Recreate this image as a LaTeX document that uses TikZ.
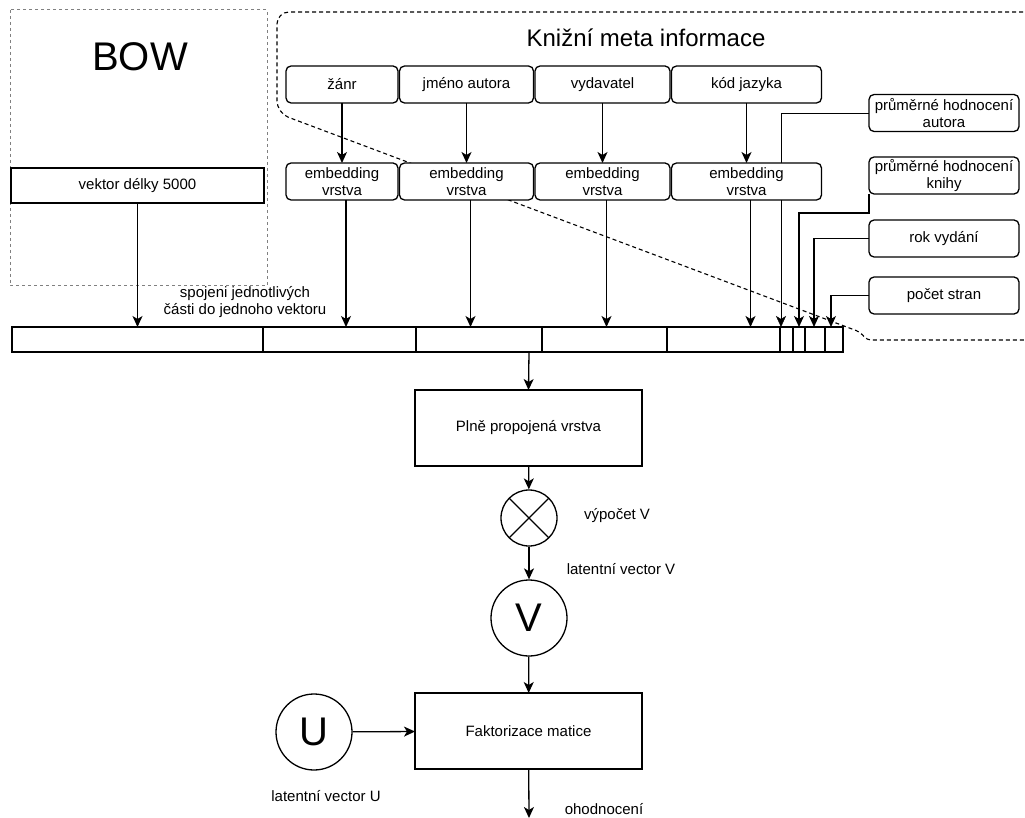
\documentclass[tikz,border=0pt]{standalone}
\usepackage{fontspec}
\setmainfont{Liberation Sans}
\usetikzlibrary{calc,chains,arrows.meta,positioning,backgrounds}
\tikzset{
    crosscircle/.style={
        draw, circle, minimum size=56pt, fill=white,
        inner sep=0pt,
        path picture = {
            \draw[black]
            (path picture bounding box.north west) --
            (path picture bounding box.south east)
            (path picture bounding box.south west) --
            (path picture bounding box.north east);
        }
    }
}

\begin{document}
\begin{tikzpicture}[
        x=1pt, y=-1pt,
        line width=1.3pt, >={Stealth[length=11pt,width=10pt,inset=3pt]},
        txt/.style={font=\fontsize{15}{17}\selectfont},
        metabox/.style={
            txt, draw, fill=white, rounded corners=5pt,
            minimum height=37pt, inner sep=0pt, outer sep=0pt, align=center
        },
        plainbox/.style={
            txt, draw, fill=white, inner sep=0pt, outer sep=0pt, align=center
        },
        cell/.style={draw, minimum height=25pt, inner sep=0pt, outer sep=0pt},
        bigletter/.style={draw, circle, minimum size=76pt, fill=white,
            inner sep=0pt, font=\fontsize{40}{40}\selectfont},
        start chain, node distance=1.5pt
      ]
  \useasboundingbox (0,0) rectangle (1025,818);

  % titles
  \node[font=\fontsize{40}{40}\selectfont] (bow) at (140,57) {BOW};
  \node[font=\fontsize{24}{24}\selectfont] (meta) at (646,38) {Knižní meta informace};

  % meta information inputs
  \node[metabox,on chain,minimum width=112pt] (zanr) at (342,84.5) {žánr};
  \node[metabox,on chain,minimum width=134pt] (autor) {jméno autora};
  \node[metabox,on chain,minimum width=135pt] (vydav) {vydavatel};
  \node[metabox,on chain,minimum width=150pt] (jazyk) {kód jazyka};

  \node[metabox,minimum width=112pt] (embA) [below=60pt of zanr]  {embedding\\vrstva};
  \node[metabox,minimum width=134pt] (embB) [below=60pt of autor] {embedding\\vrstva};
  \node[metabox,minimum width=135pt] (embC) [below=60pt of vydav] {embedding\\vrstva};
  \node[metabox,minimum width=150pt] (embD) [below=60pt of jazyk] {embedding\\vrstva};

  \node[metabox,minimum width=150pt] (avgA) at (944,113) {průměrné hodnocení\\autora};
  \node[metabox,minimum width=150pt] (avgB) at (944,175.5) {průměrné hodnocení\\knihy};
  \node[metabox,minimum width=150pt] (rok)  at (944,238.5) {rok vydání};
  \node[metabox,minimum width=150pt] (pocet) at (944,295.5) {počet stran};

  \node[plainbox,minimum width=253pt,minimum height=35pt] (bowvec) at (137.5,185.5) {vektor délky 5000};

  % concatenated vector
  \node[cell,minimum width=251pt,anchor=north west] (c0) at (12,327) {};
  \node[cell,minimum width=153pt,right=0pt of c0] (c1) {};
  \node[cell,minimum width=126pt,right=0pt of c1] (c2) {};
  \node[cell,minimum width=125pt,right=0pt of c2] (c3) {};
  \node[cell,minimum width=113pt,right=0pt of c3] (c4) {};
  \node[cell,minimum width=13pt,right=0pt of c4]  (c5) {};
  \node[cell,minimum width=12pt,right=0pt of c5]  (c6) {};
  \node[cell,minimum width=20pt,right=0pt of c6]  (c7) {};
  \node[cell,minimum width=18pt,right=0pt of c7]  (c8) {};
  \node[txt,align=center] (concat) at (245,302.5) {spojeni jednotlivých\\části do jednoho vektoru};

  % network
  \node[plainbox,minimum width=227pt,minimum height=76pt] (dense) at (528.5,428) {Plně propojená vrstva};
  \node[crosscircle] (calcV) at (529,518) {};
  \node[txt] (calcVlbl) at (617,516) {výpočet V};
  \node[bigletter] (V) at (529,618) {V};
  \node[txt] (Vlbl) at (621,569) {latentní vector V};
  \node[plainbox,minimum width=227pt,minimum height=76pt] (mf) at (528.5,731) {Faktorizace matice};
  \node[bigletter] (U) at (314,732) {U};
  \node[txt] (Ulbl) at (326,796) {latentní vector U};
  \node[txt] (outlbl) at (604,809) {ohodnocení};
  \coordinate (out) at (529,818);

  \begin{scope}[on background layer]
    \draw[black!50, line width=1pt, dash pattern=on 3pt off 3pt] (10,10) rectangle (267,286);
    \draw[line width=1.1pt, dash pattern=on 4pt off 3pt, rounded corners=12pt]
      (1030,12) -- (277,12) -- (277,113) [rounded corners=4pt] -- (860,332) -- (867,340) -- (1030,340);
    \draw[->] (avgA.west) -| ([xshift=1pt]c5.north west);
  \end{scope}

  \draw[->] (zanr) -- (embA);
  \draw[->] (autor) -- (embB);
  \draw[->] (vydav) -- (embC);
  \draw[->] (jazyk) -- (embD);

  \draw[->] (bowvec.south) -- (bowvec.south |- c0.north);
  \draw[->] ([xshift=4pt]embA.south) -- ([xshift=4pt]embA.south |- c1.north);
  \draw[->] ([xshift=4pt]embB.south) -- ([xshift=4pt]embB.south |- c2.north);
  \draw[->] ([xshift=4pt]embC.south) -- ([xshift=4pt]embC.south |- c3.north);
  \draw[->] ([xshift=4pt]embD.south) -- ([xshift=4pt]embD.south |- c4.north);

  \draw[->] (avgB.south west) -- ++(0,19) -| (c6.north);
  \draw[->] (rok.west) -| ([xshift=-1pt]c7.north);
  \draw[->] (pocet.west) -| ([xshift=-3pt]c8.north);

  \draw[->] (c3.south west) ++(-13,0) -- (dense.north);
  \draw[->] (dense) -- (calcV);
  \draw[->] (calcV) -- (V);
  \draw[->] (V) -- (mf);
  \draw[->] (U) -- (mf);
  \draw[->] (mf) -- (out);

\end{tikzpicture}
\end{document}
